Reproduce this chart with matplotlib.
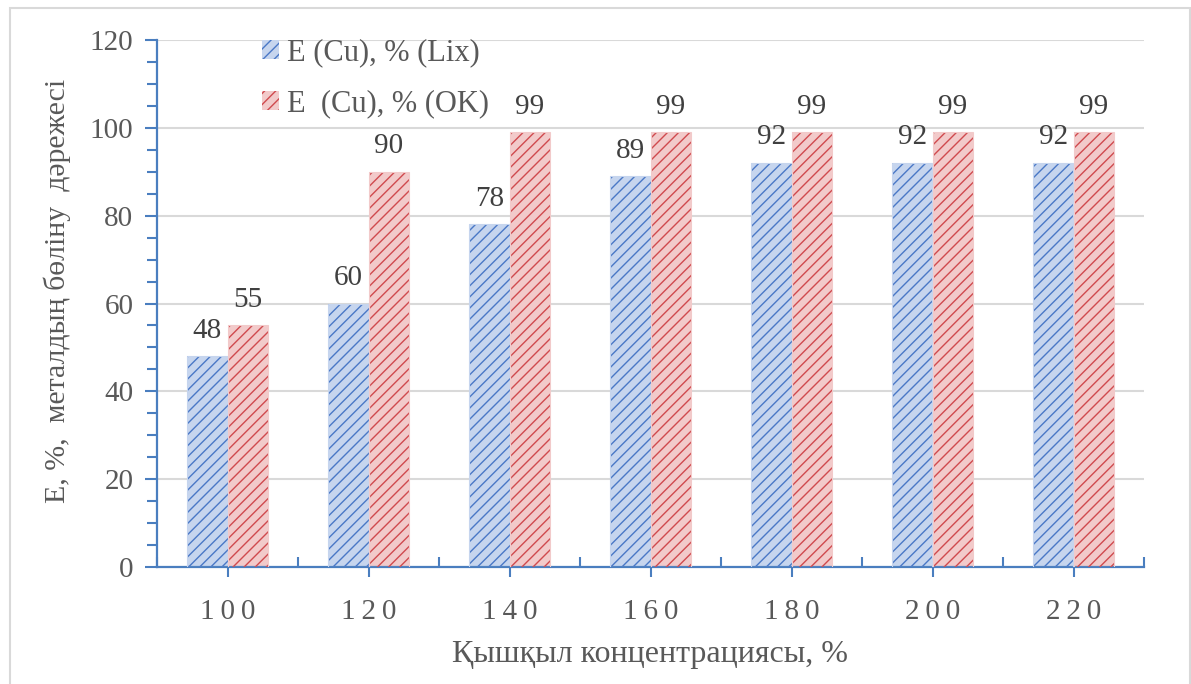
import matplotlib
matplotlib.use("Agg")
import matplotlib.pyplot as plt
from matplotlib.patches import Rectangle, Patch
from matplotlib.ticker import MultipleLocator, FixedLocator
import numpy as np

categories = ["100", "120", "140", "160", "180", "200", "220"]
lix_values = [48, 60, 78, 89, 92, 92, 92]
ok_values = [55, 90, 99, 99, 99, 99, 99]
series_names = ["E (Cu), % (Lix)", "E  (Cu), % (OK)"]
x_title = "Қышқыл концентрациясы, %"
y_title = "E, %,  металдың бөліну  дәрежесі"

plt.rcParams["font.family"] = ["Liberation Serif", "DejaVu Serif"]
plt.rcParams["hatch.linewidth"] = 1.0

fig = plt.figure(figsize=(11.91, 6.84), dpi=100)
W, H = 1191, 684
ax = fig.add_axes([157 / W, 1 - 567 / H, (1144 - 157) / W, (567 - 40) / H])

# outer chart frame
fig.patches.append(Rectangle((10 / W, -0.01), (1190 - 10) / W, 1 - 8 / H + 0.01,
                             transform=fig.transFigure, fill=False,
                             edgecolor="#d9d9d9", linewidth=1.5))

x = np.arange(len(categories))
bw = 0.284
hatch = "///"
styles = [
    dict(fill="#c6d5ee", hatch_col="#4a78c6"),
    dict(fill="#f2caca", hatch_col="#d04a4e"),
]
label_col = "#404040"
handles = []
for i, (vals, st, name) in enumerate(zip([lix_values, ok_values], styles, series_names)):
    pos = x + (i - 0.5) * bw
    ax.bar(pos, vals, bw, color=st["fill"], edgecolor="none", zorder=2)
    ax.bar(pos, vals, bw, facecolor="none", edgecolor=st["hatch_col"], linewidth=0,
           hatch=hatch, zorder=3)
    ax.bar(pos, vals, bw, facecolor="none", edgecolor=st["fill"], linewidth=0.8,
           zorder=4)
    for p, v in zip(pos, vals):
        ax.annotate(f"{v}", (p, v), xytext=(0, 9), textcoords="offset points",
                    ha="center", va="bottom", fontsize=21, color=label_col)
    handles.append(Patch(facecolor=st["fill"], edgecolor=st["hatch_col"],
                         linewidth=0, hatch=hatch, label=name))

ax.set_xlim(-0.5, len(categories) - 0.5)
ax.set_ylim(0, 120)
ax.yaxis.set_major_locator(MultipleLocator(20))
ax.yaxis.set_minor_locator(MultipleLocator(5))
ax.grid(axis="y", color="#d9d9d9", linewidth=1.5, zorder=0)
ax.set_axisbelow(True)

ax.set_xticks(x)
ax.set_xticklabels(["\u2009".join(c) for c in categories])
ax.xaxis.set_minor_locator(FixedLocator(np.arange(-0.5, len(categories), 1.0)))

axis_col = "#4a7ebf"
for s in ["top", "right"]:
    ax.spines[s].set_visible(False)
for s in ["left", "bottom"]:
    ax.spines[s].set_color(axis_col)
    ax.spines[s].set_linewidth(1.6)

text_col = "#595959"
ax.tick_params(axis="y", which="major", direction="out", length=9, width=1.5,
               color=axis_col, labelsize=21, labelcolor=text_col, pad=8)
ax.tick_params(axis="y", which="minor", direction="out", length=7, width=1.5,
               color=axis_col)
ax.tick_params(axis="x", which="major", direction="out", length=7, width=1.5,
               color=axis_col, labelsize=21, labelcolor=text_col, pad=16)
ax.tick_params(axis="x", which="minor", direction="in", length=7, width=1.5,
               color=axis_col)

ax.set_xlabel(x_title, fontsize=23, color=text_col, labelpad=11)
ax.set_ylabel(y_title, fontsize=21.5, color=text_col)
ax.yaxis.set_label_coords((57 - 157) / 987, (567 - 291) / 527)
ax.yaxis.label.set_va("center")

ax.legend(handles=handles, loc="upper left",
          bbox_to_anchor=(262 / W, 1 - 38 / H), bbox_transform=fig.transFigure,
          frameon=False, fontsize=22, borderpad=0, borderaxespad=0,
          handlelength=0.56, handleheight=0.56, handletextpad=0.26,
          labelspacing=0.72, labelcolor=text_col)

fig.savefig("out.png", dpi=100, facecolor="white")
